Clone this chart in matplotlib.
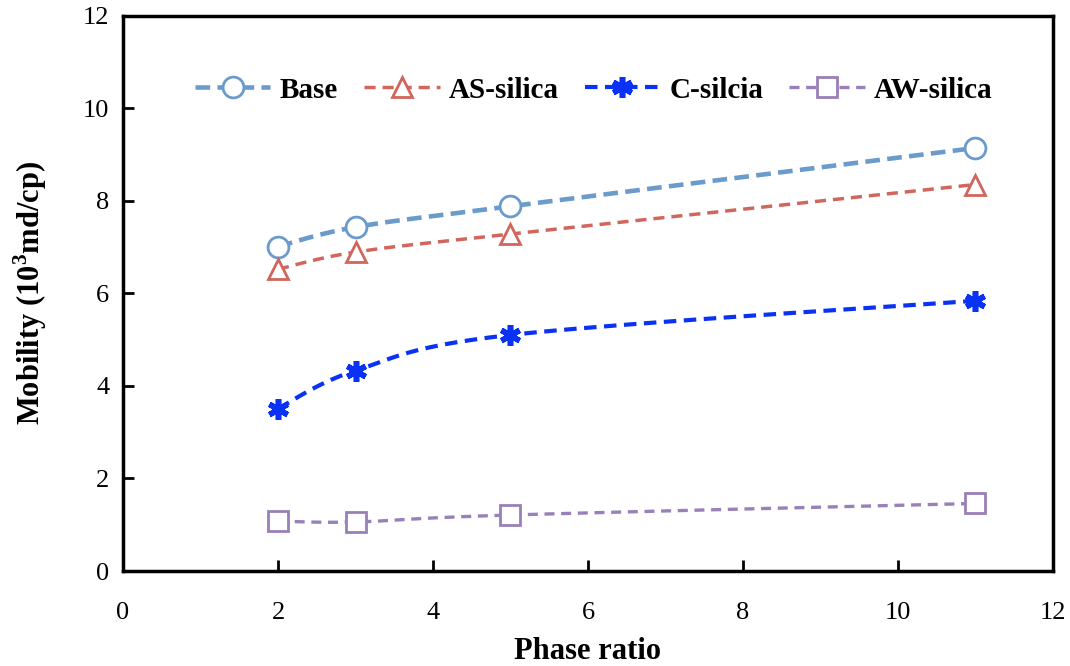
import numpy as np
import matplotlib
matplotlib.use("Agg")
import matplotlib.pyplot as plt

plt.rcParams['font.family'] = ['Liberation Serif', 'DejaVu Serif']
plt.rcParams['mathtext.fontset'] = 'custom'
plt.rcParams['mathtext.rm'] = 'Liberation Serif'
plt.rcParams['mathtext.bf'] = 'Liberation Serif:bold'

phase_ratio = [2, 3, 5, 11]
base = [7.01, 7.43, 7.88, 9.14]
as_silica = [6.52, 6.89, 7.28, 8.35]
c_silcia = [3.51, 4.33, 5.10, 5.84]
aw_silica = [1.08, 1.06, 1.21, 1.46]

x_ticks = [0, 2, 4, 6, 8, 10, 12]
y_ticks = [0, 2, 4, 6, 8, 10, 12]


def smooth(xs, ys, n=40):
    """Catmull-Rom style cubic Bezier through the points (spreadsheet-like smoothing)."""
    xs = np.asarray(xs, float)
    ys = np.asarray(ys, float)
    px = np.concatenate([[xs[0]], xs, [xs[-1]]])
    py = np.concatenate([[ys[0]], ys, [ys[-1]]])
    out_x, out_y = [], []
    t = np.linspace(0, 1, n)
    for i in range(1, len(px) - 2):
        p0 = np.array([px[i], py[i]])
        p3 = np.array([px[i + 1], py[i + 1]])
        c1 = p0 + (np.array([px[i + 1], py[i + 1]]) - np.array([px[i - 1], py[i - 1]])) / 6
        c2 = p3 - (np.array([px[i + 2], py[i + 2]]) - np.array([px[i], py[i]])) / 6
        b = (np.outer((1 - t) ** 3, p0) + np.outer(3 * (1 - t) ** 2 * t, c1)
             + np.outer(3 * (1 - t) * t ** 2, c2) + np.outer(t ** 3, p3))
        out_x.extend(b[:, 0])
        out_y.extend(b[:, 1])
    return np.array(out_x), np.array(out_y)


fig = plt.figure(figsize=(10.70, 6.66), dpi=100)
ax = fig.add_axes([0.115, 0.1426, 0.869, 0.834])

STAR = (6, 2, 0)
series = [
    ("Base", base, "#6A9BCB", "o", 3.3, (0, (3.2, 1.6)), 15),
    ("AS-silica", as_silica, "#D0665C", "^", 2.5, (0, (3.2, 2.0)), 15),
    ("C-silcia", c_silcia, "#0A32F5", STAR, 3.0, (0, (3.0, 1.8)), 15),
    ("AW-silica", aw_silica, "#9880B8", "s", 2.4, (0, (3.0, 2.0)), 14),
]

handles = []
for label, ys, color, marker, lw, dash, ms in series:
    sx, sy = smooth(phase_ratio, ys)
    ax.plot(sx, sy, color=color, lw=lw, linestyle=dash, zorder=2)
    if marker == STAR:
        mk = dict(marker=marker, ms=ms, mec=color, mew=4.0)
    else:
        mk = dict(marker=marker, ms=ms, mfc='white', mec=color, mew=2.0)
    ax.plot(phase_ratio, ys, linestyle='none', zorder=3, **mk)
    h, = ax.plot([], [], color=color, lw=lw, linestyle=dash, **mk)
    handles.append((h, label))

ax.set_xlim(0, 12)
ax.set_ylim(0, 12)
ax.set_xticks(x_ticks)
ax.set_yticks(y_ticks)
ax.tick_params(direction='in', length=8, width=2, labelsize=19,
               top=False, right=False)
ax.tick_params(axis='x', pad=22)
ax.tick_params(axis='y', pad=10)
for sp in ax.spines.values():
    sp.set_linewidth(2.5)

ax.set_xlabel("Phase ratio", fontsize=22, fontweight='bold', labelpad=10)
ax.set_ylabel(r"Mobility (10$^\mathbf{3}$md/cp)", fontsize=22,
              fontweight='bold', labelpad=24)

leg = ax.legend([h for h, _ in handles], [l for _, l in handles],
                loc='center', bbox_to_anchor=(0.506, 0.866), ncol=4,
                frameon=False, handlelength=2.6, columnspacing=0.9,
                handletextpad=0.3, prop={'family': 'Liberation Serif',
                                         'weight': 'bold', 'size': 21})

fig.savefig("out.png", dpi=100)
